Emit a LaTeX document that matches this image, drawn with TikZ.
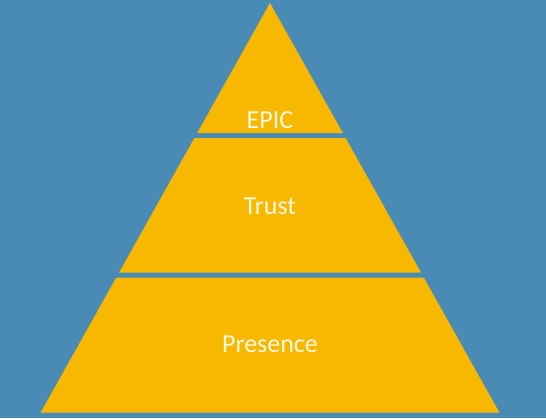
\documentclass[tikz,border=0pt]{standalone}
\usepackage{fontspec}
\setmainfont{Carlito}
\usepackage{xcolor}
\definecolor{bgblue}{RGB}{74, 139, 181}
\definecolor{tieryellow}{RGB}{248, 184, 0}
\definecolor{tiertextcol}{RGB}{255, 248, 225}

\begin{document}
\begin{tikzpicture}[x=1pt, y=-1pt,
                    tier/.style={fill=tieryellow},
                    tiertext/.style={text=tiertextcol, font=\fontsize{26}{30}\selectfont}]

    % ==========================================================
    % fondo
    % ==========================================================
    \fill[bgblue] (0,0) rectangle (546,418);
    \useasboundingbox (0,0) rectangle (546,418);

    % ==========================================================
    % piramide: vertice (270,3), pendiente 0.56 px/px
    % ==========================================================
    \foreach \t/\b/\txt/\ty [count=\i] in {3/133/EPIC/120,
                                          138/272.5/Trust/206,
                                          277.5/412.5/Presence/344} {
        \fill[tier] ({270-(\t-3)*0.56},\t) -- ({270+(\t-3)*0.56},\t)
                 -- ({270+(\b-3)*0.56},\b) -- ({270-(\b-3)*0.56},\b) -- cycle;
        \node[tiertext] (tier\i) at (270,\ty) {\txt};
    }

\end{tikzpicture}
\end{document}
